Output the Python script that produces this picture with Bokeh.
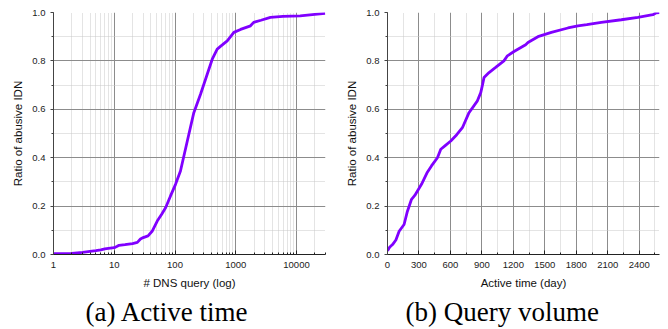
from bokeh.plotting import figure
from bokeh.layouts import row
from bokeh.models import (ColumnDataSource, Range1d, LogTicker, SingleIntervalTicker,
                          Title, PrintfTickFormatter, CustomJSTickFormatter)
from bokeh.embed import file_html
from bokeh.resources import INLINE

# ---- data: (a) CDF over DNS query count (log x) ----
dns_queries = [1, 2, 3, 4, 5, 6, 7, 8, 10, 11, 12, 15, 20, 24, 27, 30, 36, 42, 51, 60,
               70, 84, 102, 123, 140, 169, 204, 263, 339, 410, 495, 600, 724, 931,
               1200, 1750, 1970, 2600, 3717, 6000, 11500, 20000, 29600]
ratio_a = [0.003, 0.005, 0.009, 0.013, 0.016, 0.019, 0.023, 0.025, 0.028, 0.033, 0.038,
           0.041, 0.045, 0.05, 0.064, 0.07, 0.077, 0.096, 0.138, 0.165, 0.193, 0.241,
           0.29, 0.345, 0.407, 0.497, 0.586, 0.662, 0.745, 0.807, 0.849, 0.866, 0.883,
           0.918, 0.93, 0.945, 0.959, 0.968, 0.98, 0.984, 0.986, 0.992, 0.996]

# ---- data: (b) CDF over active time (days) ----
active_days = [0, 20, 48, 80, 111, 158, 190, 229, 260, 324, 380, 419, 476, 508, 550,
               603, 660, 714, 777, 857, 889, 905, 920, 968, 1031, 1110, 1143, 1206,
               1317, 1339, 1434, 1562, 1720, 1815, 1900, 2038, 2229, 2387, 2530, 2562, 2593]
ratio_b = [0.015, 0.03, 0.041, 0.06, 0.096, 0.124, 0.179, 0.228, 0.244, 0.29, 0.34,
           0.366, 0.40, 0.435, 0.45, 0.469, 0.495, 0.524, 0.586, 0.635, 0.669, 0.70,
           0.731, 0.752, 0.773, 0.80, 0.821, 0.839, 0.867, 0.876, 0.90, 0.918, 0.936,
           0.945, 0.95, 0.959, 0.97, 0.98, 0.991, 0.999, 1.0]

captions = ["(a) Active time", "(b) Query volume"]
x_labels = ["# DNS query (log)", "Active time (day)"]
y_label = "Ratio of abusive IDN"

LINE = "#8000ff"
TICK_FONT = "9.5px"
FONT = "Liberation Sans"


def style(p, xlabel, caption, offset):
    p.outline_line_color = None
    p.background_fill_color = "white"
    p.border_fill_color = "white"
    for ax in p.xaxis:
        ax.axis_label = xlabel
        ax.axis_label_text_font = FONT
        ax.axis_label_text_font_size = "11.5px"
        ax.axis_label_text_font_style = "normal"
        ax.axis_label_text_color = "#111111"
        ax.axis_label_standoff = 6
        ax.major_label_text_font = FONT
        ax.major_label_text_font_size = TICK_FONT
        ax.major_label_text_color = "#222222"
        ax.major_label_standoff = 7
        ax.major_tick_in = 4
        ax.major_tick_out = 0
        ax.minor_tick_in = 2
        ax.minor_tick_out = 0
        ax.axis_line_color = "#222222"
        ax.major_tick_line_color = "#222222"
        ax.minor_tick_line_color = "#222222"
    for ax in p.yaxis:
        ax.axis_label = y_label
        ax.axis_label_text_font = FONT
        ax.axis_label_text_font_size = "11.5px"
        ax.axis_label_text_font_style = "normal"
        ax.axis_label_text_color = "#111111"
        ax.axis_label_standoff = 5
        ax.major_label_text_font = FONT
        ax.major_label_text_font_size = TICK_FONT
        ax.major_label_text_color = "#222222"
        ax.major_label_standoff = 5
        ax.major_tick_in = 0
        ax.major_tick_out = 3
        ax.minor_tick_in = 0
        ax.minor_tick_out = 2
        ax.axis_line_color = "#444444"
        ax.major_tick_line_color = "#444444"
        ax.minor_tick_line_color = "#444444"
        ax.formatter = PrintfTickFormatter(format="%.1f")
    for g in p.grid:
        g.grid_line_color = "#8c8c8c"
        g.grid_line_width = 1
        g.minor_grid_line_color = "#c8c8c8"
        g.minor_grid_line_dash = "1 1"
        g.minor_grid_line_width = 1
    t = Title(text=caption, align="left", offset=offset,
              text_font="Liberation Serif", text_font_size="27px",
              text_font_style="normal", text_color="#000000", standoff=6)
    p.add_layout(t, "below")


# ---- figure (a) ----
pa = figure(x_axis_type="log", frame_width=272, frame_height=242,
            min_border_left=53, min_border_right=9, min_border_top=12, min_border_bottom=70,
            x_range=Range1d(1, 30000), y_range=Range1d(0, 1),
            output_backend="svg", toolbar_location=None)
src_a = ColumnDataSource(dict(x=dns_queries, y=ratio_a))
pa.line("x", "y", source=src_a, line_color=LINE, line_width=2.8)
pa.xaxis.ticker = LogTicker(num_minor_ticks=10)
pa.yaxis.ticker = SingleIntervalTicker(interval=0.2, num_minor_ticks=2)
pa.xaxis.formatter = CustomJSTickFormatter(code="return tick.toFixed(0);")
style(pa, x_labels[0], captions[0], 32)

# ---- figure (b) ----
pb = figure(frame_width=272, frame_height=242,
            min_border_left=53, min_border_right=8, min_border_top=12, min_border_bottom=70,
            x_range=Range1d(0, 2593), y_range=Range1d(0, 1),
            output_backend="svg", toolbar_location=None)
src_b = ColumnDataSource(dict(x=active_days, y=ratio_b))
pb.line("x", "y", source=src_b, line_color=LINE, line_width=2.8)
pb.xaxis.ticker = SingleIntervalTicker(interval=300, num_minor_ticks=2)
pb.yaxis.ticker = SingleIntervalTicker(interval=0.2, num_minor_ticks=2)
style(pb, x_labels[1], captions[1], 18)

layout = row(pa, pb, spacing=0)
open("out.html", "w").write(file_html(layout, INLINE))
